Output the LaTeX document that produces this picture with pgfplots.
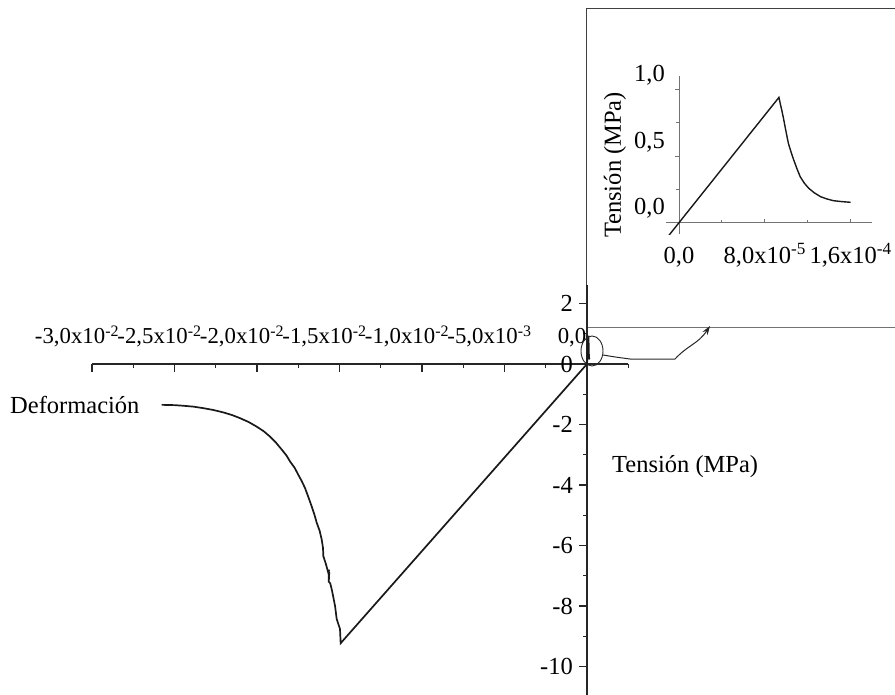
\documentclass[border=0pt]{standalone}
\usepackage{fontspec}
\setmainfont{Liberation Serif}
\usepackage{pgfplots}
\usepackage{pgfplotstable}
\pgfplotsset{compat=1.18}
\usetikzlibrary{arrows.meta}

\newcommand{\sz}{\fontsize{24.5}{29}\selectfont}
\newcommand{\szx}{\fontsize{22.8}{27}\selectfont}

% full stress-strain record (compression branch plus the small tensile start)
\pgfplotstableread{
x y
-0.02578 -1.35
-0.02500 -1.36
-0.02447 -1.38
-0.02385 -1.41
-0.02325 -1.46
-0.02265 -1.52
-0.02204 -1.60
-0.02150 -1.69
-0.02103 -1.79
-0.02050 -1.92
-0.02002 -2.07
-0.01960 -2.22
-0.01921 -2.40
-0.01885 -2.60
-0.01850 -2.83
-0.01822 -3.02
-0.01800 -3.22
-0.01772 -3.43
-0.01750 -3.66
-0.01728 -3.88
-0.01709 -4.10
-0.01690 -4.38
-0.01669 -4.70
-0.01652 -4.98
-0.01638 -5.25
-0.01620 -5.52
-0.01608 -5.80
-0.01600 -6.08
-0.01598 -6.35
-0.01582 -6.62
-0.01568 -6.90
-0.01564 -6.80
-0.01566 -7.15
-0.01562 -6.88
-0.01565 -7.20
-0.01556 -7.25
-0.01547 -7.45
-0.01537 -7.72
-0.01527 -8.00
-0.01517 -8.43
-0.01497 -8.76
-0.01495 -9.00
-0.01493 -9.23
0.0 0.0
0.0000465 0.47
0.0000932 0.94
0.0000958 0.845
0.0000989 0.72
0.000102 0.595
0.000107 0.47
0.000113 0.345
0.000121 0.258
0.000132 0.195
0.000144 0.165
0.000160 0.153
}\mainrun

% tensile start, enlarged
\pgfplotstableread{
x y
-0.0000100 -0.1009
0.0 0.0
0.0000466 0.47
0.0000932 0.94
0.0000945 0.890
0.0000958 0.845
0.0000975 0.780
0.0000989 0.720
0.0001005 0.655
0.0001020 0.595
0.0001045 0.530
0.0001070 0.470
0.0001100 0.405
0.0001130 0.345
0.0001170 0.295
0.0001210 0.258
0.0001260 0.225
0.0001320 0.195
0.0001380 0.178
0.0001440 0.165
0.0001520 0.158
0.0001600 0.153
}\insetrun

\begin{document}
\begin{tikzpicture}[font=\sz]

% frame of the enlarged view
\draw[black!75, line width=1pt] (586.5pt,-328pt) -- (586.5pt,-8.5pt) -- (910pt,-8.5pt);
\draw[black!55, line width=1pt] (586.5pt,-328pt) -- (910pt,-328pt);

\begin{axis}[
  scale only axis,
  width=536.25pt, height=411.4pt,
  at={(587pt,-364pt)}, anchor=origin,
  xmin=-0.03, xmax=0.0025, ymin=-11, ymax=2.6,
  axis x line=middle, axis y line=middle,
  every inner x axis line/.append style={-},
  every inner y axis line/.append style={-},
  axis line style={black!85, line width=1.3pt},
  scaled x ticks=false, scaled y ticks=false,
  xtick={-0.03,-0.025,-0.02,-0.015,-0.01,-0.005,0},
  xticklabels={{-3,0x10\textsuperscript{-2}},{-2,5x10\textsuperscript{-2}},{-2,0x10\textsuperscript{-2}},{-1,5x10\textsuperscript{-2}},{-1,0x10\textsuperscript{-2}},{-5,0x10\textsuperscript{-3}},{0,0}},
  minor xtick={-0.0275,-0.0225,-0.0175,-0.0125,-0.0075,-0.0025,0.0025},
  ytick={-10,-8,-6,-4,-2,0,2},
  yticklabels={-10,-8,-6,-4,-2,0,2},
  minor ytick={-9,-7,-5,-3,-1,1},
  major tick length=8pt, minor tick length=4pt,
  every tick/.style={black!85, line width=1.2pt},
  major x tick style={yshift=-4pt},
  minor x tick style={yshift=-2pt},
  major y tick style={xshift=-4pt},
  minor y tick style={xshift=-2pt},
  tick label style={font=\sz, inner sep=0pt},
  xticklabel style={font=\szx, anchor=base, xshift=-15pt, yshift=24pt},
  yticklabel style={anchor=east, xshift=-10pt},
  hide obscured x ticks=false, hide obscured y ticks=false,
]
\addplot[black!90, line width=1.7pt] table[x=x, y=y] {\mainrun};
\end{axis}

\begin{axis}[
  scale only axis,
  width=205.9pt, height=158pt,
  at={(679pt,-222.7pt)}, anchor=origin,
  xmin=-0.000012, xmax=0.00018, ymin=-0.085, ymax=1.1,
  axis x line=middle, axis y line=middle,
  every inner x axis line/.append style={-},
  every inner y axis line/.append style={-},
  axis line style={black!55, line width=1pt},
  scaled x ticks=false, scaled y ticks=false,
  xtick={0,0.00008,0.00016},
  xticklabels={{0,0},{8,0x10\textsuperscript{-5}},{1,6x10\textsuperscript{-4}}},
  minor xtick={0.00004,0.00012},
  ytick={0,0.5,1},
  yticklabels={{0,0},{0,5},{1,0}},
  minor ytick={0.25,0.75},
  major tick length=4pt, minor tick length=3pt,
  every tick/.style={black!55, line width=0.9pt},
  major x tick style={yshift=2pt},
  minor x tick style={yshift=1.5pt},
  major y tick style={xshift=-2pt},
  minor y tick style={xshift=-1.5pt},
  tick label style={font=\sz, inner sep=0pt},
  xticklabel style={anchor=base, yshift=-39pt},
  yticklabel style={anchor=base east, xshift=-12pt, yshift=8pt},
  hide obscured x ticks=false, hide obscured y ticks=false,
]
\addplot[black!90, line width=1.4pt] table[x=x, y=y] {\insetrun};
\end{axis}

\node[rotate=90, inner sep=0pt] at (615pt,-165pt) {Tensión (MPa)};
\node[anchor=west, inner sep=0pt] at (10pt,-405pt) {Deformación};
\node[anchor=west, inner sep=0pt] at (612pt,-467pt) {Tensión (MPa)};

% marker round the origin and pointer to the enlarged view
\draw[black!85, line width=0.9pt] (592pt,-351pt) ellipse [x radius=11pt, y radius=15pt];
\draw[black!85, line width=1pt, -{Stealth[length=9pt,width=6pt]}]
  (603pt,-355pt) .. controls (615pt,-357pt) .. (630pt,-359pt) -- (675pt,-359pt)
  .. controls (688pt,-345pt) and (698pt,-344pt) .. (710pt,-326pt);

\pgfresetboundingbox
\path[use as bounding box] (0pt,0pt) rectangle (895pt,-695pt);
\end{tikzpicture}
\end{document}
